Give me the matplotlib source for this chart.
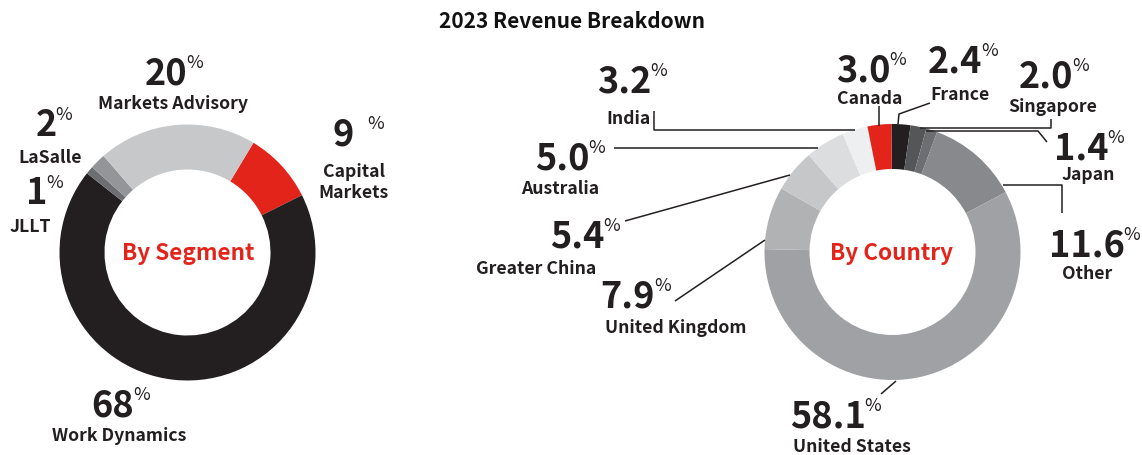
import matplotlib
matplotlib.use("Agg")
from matplotlib import pyplot as plt

plt.rcParams['font.family'] = ['Noto Sans CJK SC', 'DejaVu Sans']

W, H = 1142, 455

# --- data ---
seg_names = ["Capital\nMarkets", "Work Dynamics", "JLLT", "LaSalle", "Markets Advisory"]
seg_values = [9, 68, 1, 2, 20]
seg_colors = ["#e3241b", "#231f20", "#6d6e71", "#939598", "#c7c8ca"]

cty_names = ["France", "Singapore", "Japan", "Other", "United States",
             "United Kingdom", "Greater China", "Australia", "India", "Canada"]
cty_values = [2.4, 2.0, 1.4, 11.6, 58.1, 7.9, 5.4, 5.0, 3.2, 3.0]
cty_colors = ["#231f20", "#555658", "#6d6e71", "#88898c", "#a0a1a4",
              "#b1b2b4", "#c6c7c9", "#dcdddf", "#eeeff0", "#e3241b"]

RED = "#e3241b"
INK = "#231f20"

# --- layout (pixel positions, from top-left) ---
seg_label_pos = {
    "Capital\nMarkets": (343, 131, 354, 179),
    "Work Dynamics": (113, 402, 119, 434),
    "JLLT": (37, 190, 30, 225),
    "LaSalle": (46, 122, 50, 156),
    "Markets Advisory": (166, 70, 173, 102),
}
cty_label_pos = {
    "France": (955, 58, 960, 93),
    "Singapore": (1046, 73, 1053, 105),
    "Japan": (1081, 145, 1088, 173),
    "Other": (1087, 242, 1087, 272),
    "United States": (828, 413, 852, 445),
    "United Kingdom": (628, 293, 676, 326),
    "Greater China": (577, 233, 536, 267),
    "Australia": (562, 155, 560, 187),
    "India": (624, 78, 628, 117),
    "Canada": (863, 67, 870, 97),
}
leaders = {
    "France": [(898, 124), (899, 114), (930, 103)],
    "Singapore": [(920, 128), (1051, 128), (1051, 119)],
    "Japan": [(926, 131), (1038, 131), (1047, 142)],
    "Other": [(1003, 185), (1062, 185), (1062, 213)],
    "United States": [(896, 381), (881, 394)],
    "United Kingdom": [(765, 240), (675, 301)],
    "Greater China": [(790, 175), (625, 221)],
    "Australia": [(818, 148), (614, 148)],
    "India": [(855, 130), (654, 130), (654, 111)],
    "Canada": [(879, 126), (879, 106)],
}


def Y(py):
    return H - py


fig = plt.figure(figsize=(W / 100, H / 100), dpi=100)
ax = fig.add_axes([0, 0, 1, 1])

R = 128
ring = dict(width=45, linewidth=0)

ax.pie(seg_values, colors=seg_colors, radius=R, center=(187.5, Y(252.5)),
       startangle=59, counterclock=False, wedgeprops=ring, frame=True)
ax.pie(cty_values, colors=cty_colors, radius=R, center=(892.5, Y(252)),
       startangle=90.5, counterclock=False, wedgeprops=ring, frame=True)
ax.set_xlim(0, W)
ax.set_ylim(0, H)
ax.set_aspect("equal")
ax.axis("off")

for name, pts in leaders.items():
    xs = [p[0] for p in pts]
    ys = [Y(p[1]) for p in pts]
    ax.plot(xs, ys, color=INK, lw=1.1, solid_capstyle="butt")


def label(num, name, pos, gap=-1):
    nx, ny, lx, ly = pos
    t = ax.text(nx, Y(ny), num, fontsize=26, fontweight="bold", color=INK,
                ha="center", va="center_baseline")
    ax.annotate("%", xy=(1, 0.9), xycoords=t, xytext=(gap, 3.5),
                textcoords="offset points", fontsize=13, color=INK,
                ha="left", va="top")
    ax.text(lx, Y(ly), name, fontsize=12.7, fontweight="bold", color=INK,
            ha="center", va="center_baseline", linespacing=1.25)


for name, v in zip(seg_names, seg_values):
    label(f"{v:g}", name, seg_label_pos[name], gap=10 if v == 9 else -1)

for name, v in zip(cty_names, cty_values):
    label(f"{v:.1f}", name, cty_label_pos[name])

ax.text(188, Y(251), "By Segment", fontsize=16.2, fontweight="bold", color=RED,
        ha="center", va="center_baseline")
ax.text(892, Y(251), "By Country", fontsize=16.2, fontweight="bold", color=RED,
        ha="center", va="center_baseline")

ax.text(572, Y(19), "2023 Revenue Breakdown", fontsize=15,
        fontweight="bold", color="#111111", ha="center", va="center_baseline")

fig.savefig("out.png", dpi=100)
